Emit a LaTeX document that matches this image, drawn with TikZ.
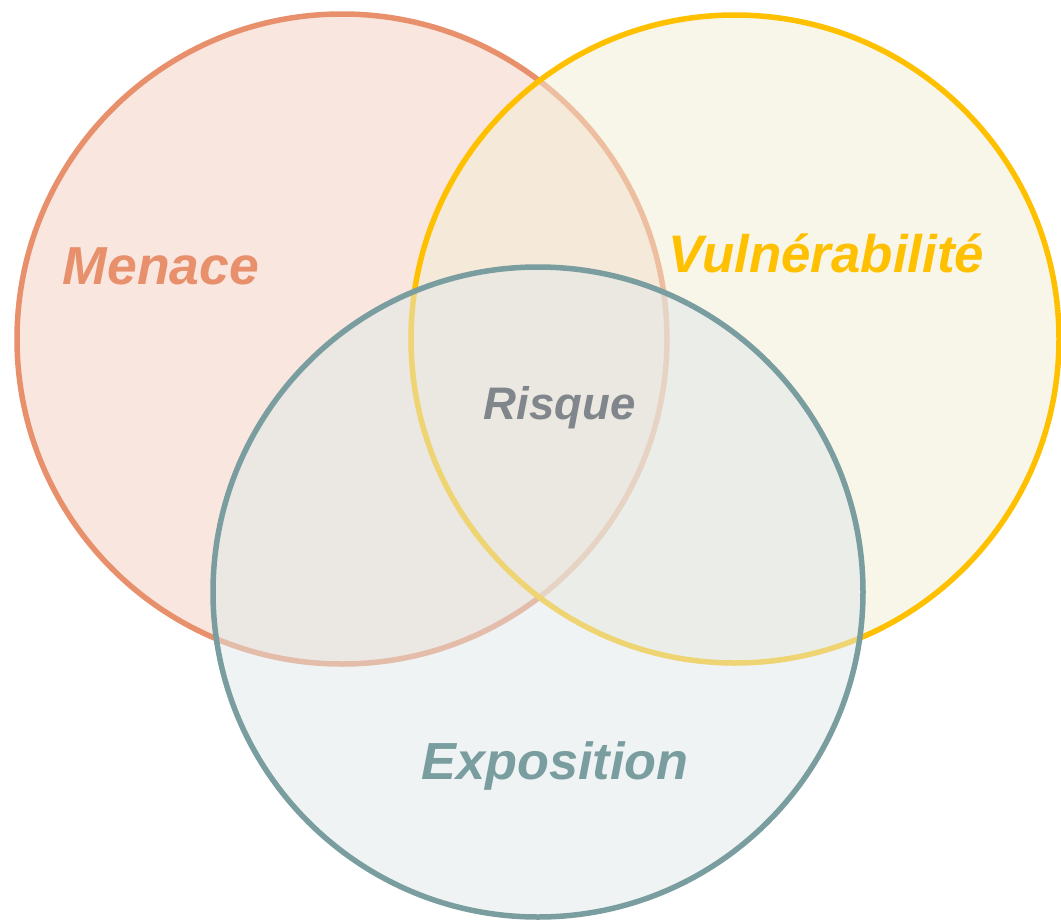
\documentclass[tikz,border=0pt]{standalone}
\usepackage{fontspec}
\setmainfont{Liberation Sans}
\definecolor{menC}{HTML}{E8906C}
\definecolor{menF}{HTML}{F8E6DF}
\definecolor{vulC}{HTML}{FFC000}
\definecolor{vulF}{HTML}{F3EDD5}
\definecolor{expC}{HTML}{7A9E9F}
\definecolor{expF}{HTML}{E0E8E8}
\definecolor{risC}{HTML}{80868B}
\begin{document}
\begin{tikzpicture}[x=1pt,y=-1pt,
  ring/.style={line width=5.5pt},
  lbl/.style={anchor=base,inner sep=0pt}]
\useasboundingbox (0,0) rectangle (1061,921);
\fill[white] (0,0) rectangle (1061,921);
\coordinate (cm) at (342,339);
\coordinate (cv) at (735,339);
\coordinate (ce) at (538,592);
\draw[ring,draw=menC,fill=menF] (cm) circle[radius=325];
\draw[ring,draw=vulC,fill=vulF,fill opacity=0.5] (cv) circle[radius=324];
\draw[ring,draw=expC,fill=expF,fill opacity=0.5] (ce) circle[radius=325];
\node[lbl,text=menC,font=\fontsize{53.5}{60}\selectfont\bfseries\itshape] (tm) at (161,284) {Menace};
\node[lbl,text=vulC,font=\fontsize{52.8}{60}\selectfont\bfseries\itshape] (tv) at (826,272) {Vulnérabilité};
\node[lbl,text=risC,font=\fontsize{45.6}{52}\selectfont\bfseries\itshape] (tr) at (560,419) {Risque};
\node[lbl,text=expC,font=\fontsize{52.2}{58}\selectfont\bfseries\itshape] (te) at (555,779) {Exposition};
\end{tikzpicture}
\end{document}
